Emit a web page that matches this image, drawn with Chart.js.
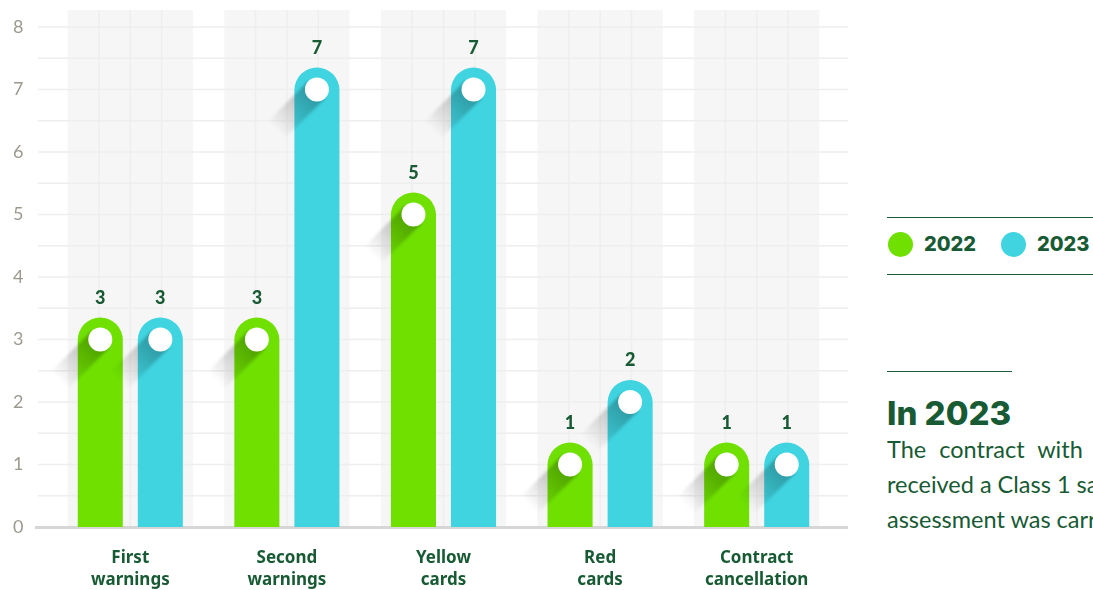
<!DOCTYPE html>
<html lang="en">
<head>
    <meta charset="UTF-8">
    <title>Warnings and cards 2022 - 2023</title>
    <script src="https://cdn.jsdelivr.net/npm/chart.js"></script>
    <style>
        body {
            margin: 0;
            width: 1093px;
            height: 590px;
            overflow: hidden;
            background: #ffffff;
            position: relative;
            font-family: 'Lato', sans-serif;
        }

        .chart-box {
            position: absolute;
            left: 0;
            top: 0;
            width: 860px;
            height: 590px;
        }

        .side {
            position: absolute;
            left: 887px;
            top: 0;
            width: 206px;
            height: 590px;
            overflow: hidden;
            color: #175a33;
        }

        .legend {
            position: absolute;
            top: 217px;
            left: 0;
            width: 240px;
            height: 56px;
            border-top: 1.5px solid #1d5c38;
            border-bottom: 1.5px solid #1d5c38;
        }

        .legend .dot {
            position: absolute;
            top: 14px;
            width: 25px;
            height: 25px;
            border-radius: 50%;
        }

        .legend .label {
            position: absolute;
            top: 14px;
            line-height: 25px;
            font-family: 'Inter', sans-serif;
            font-weight: 800;
            font-size: 20px;
        }

        .rule {
            position: absolute;
            top: 371px;
            left: 0;
            width: 125px;
            border-top: 1.5px solid #1d5c38;
        }

        .side h2 {
            position: absolute;
            top: 397px;
            left: 0;
            margin: 0;
            font-family: 'Inter', sans-serif;
            font-weight: 800;
            font-size: 33px;
            line-height: 33px;
            white-space: nowrap;
        }

        .side p {
            position: absolute;
            top: 432px;
            left: 0;
            margin: 0;
            font-size: 23.5px;
            line-height: 35px;
            white-space: nowrap;
        }
    </style>
</head>
<body>
    <div class="chart-box">
        <canvas id="cardsChart" width="860" height="590"></canvas>
    </div>

    <div class="side">
        <div class="legend">
            <span class="dot" style="left:1px; background:#6fe000;"></span>
            <span class="label" style="left:37px;">2022</span>
            <span class="dot" style="left:114px; background:#40d4e1;"></span>
            <span class="label" style="left:150px;">2023</span>
        </div>
        <div class="rule"></div>
        <h2>In 2023</h2>
        <p><span style="word-spacing:7px;">The contract with</span><br>received a Class 1 sanction<br>assessment was carried out</p>
    </div>

    <script>
        const categories = [['First', 'warnings'], ['Second', 'warnings'], ['Yellow', 'cards'], ['Red', 'cards'], ['Contract', 'cancellation']];
        const values2022 = [3, 3, 5, 1, 1];
        const values2023 = [3, 7, 7, 2, 1];
        const yTicks = [0, 1, 2, 3, 4, 5, 6, 7, 8];

        const green = '#6fe000';
        const cyan = '#40d4e1';
        const darkGreen = '#175a33';

        function line(ctx, x1, y1, x2, y2) {
            ctx.beginPath();
            ctx.moveTo(x1, y1);
            ctx.lineTo(x2, y2);
            ctx.stroke();
        }

        // background bands, grid and the rounded caps / dots / shadows on the bars
        const decor = {
            id: 'decor',
            beforeDatasetsDraw(chart) {
                const { ctx, chartArea, scales: { x, y } } = chart;
                const step = x.getPixelForValue(1) - x.getPixelForValue(0);
                const half = step * 0.4;
                const top = 10;
                const base = y.getPixelForValue(0);
                ctx.save();
                ctx.fillStyle = '#f6f6f6';
                categories.forEach((c, i) => {
                    const cx = x.getPixelForValue(i);
                    ctx.fillRect(cx - half, top, half * 2, base - top);
                });
                ctx.strokeStyle = '#eeeeee';
                ctx.lineWidth = 1.5;
                categories.forEach((c, i) => {
                    const cx = x.getPixelForValue(i);
                    [-0.5, 0, 0.5].forEach(f => line(ctx, cx + f * half, top, cx + f * half, base));
                });
                for (let v = 0.5; v <= yTicks[yTicks.length - 1]; v += 0.5) {
                    const py = y.getPixelForValue(v);
                    line(ctx, chartArea.left - 14, py, chartArea.right + 13, py);
                }
                ctx.strokeStyle = '#d6d6d6';
                ctx.lineWidth = 3;
                line(ctx, chartArea.left - 17, base + 0.5, chartArea.right + 13, base + 0.5);
                ctx.restore();
            },
            afterDatasetsDraw(chart) {
                const { ctx } = chart;
                ctx.save();
                chart.data.datasets.forEach((ds, di) => {
                    const meta = chart.getDatasetMeta(di);
                    meta.data.forEach((el, i) => {
                        const r = el.width / 2;
                        const cx = el.x, cy = el.y;
                        // rounded top
                        ctx.fillStyle = ds.backgroundColor;
                        ctx.beginPath();
                        ctx.arc(cx, cy + 0.5, r, Math.PI, 0);
                        ctx.fill();
                        // long shadow of the dot
                        const dr = 12, L = 58, k = Math.SQRT1_2;
                        const g = ctx.createLinearGradient(cx, cy, cx - L * k, cy + L * k);
                        g.addColorStop(0, 'rgba(0,0,0,0.30)');
                        g.addColorStop(1, 'rgba(0,0,0,0)');
                        ctx.save();
                        ctx.filter = 'blur(1.5px)';
                        ctx.fillStyle = g;
                        ctx.beginPath();
                        ctx.moveTo(cx + dr * k, cy + dr * k);
                        ctx.lineTo(cx + dr * k - L * k, cy + dr * k + L * k);
                        ctx.lineTo(cx - dr * k - L * k, cy - dr * k + L * k);
                        ctx.lineTo(cx - dr * k, cy - dr * k);
                        ctx.closePath();
                        ctx.fill();
                        ctx.restore();
                        // white dot
                        ctx.fillStyle = '#ffffff';
                        ctx.beginPath();
                        ctx.arc(cx, cy, dr, 0, Math.PI * 2);
                        ctx.fill();
                        // value label
                        ctx.fillStyle = darkGreen;
                        ctx.font = '900 18px Lato';
                        ctx.textAlign = 'center';
                        ctx.textBaseline = 'middle';
                        ctx.fillText(ds.data[i], cx, cy - r - 19);
                    });
                });
                ctx.restore();
            }
        };

        const ctx = document.getElementById('cardsChart').getContext('2d');
        const chart = new Chart(ctx, {
            type: 'bar',
            data: {
                labels: categories,
                datasets: [{
                    label: '2022',
                    data: values2022,
                    backgroundColor: green,
                    borderWidth: 0,
                    categoryPercentage: 0.767,
                    barPercentage: 0.75
                }, {
                    label: '2023',
                    data: values2023,
                    backgroundColor: cyan,
                    borderWidth: 0,
                    categoryPercentage: 0.767,
                    barPercentage: 0.75
                }]
            },
            options: {
                responsive: false,
                animation: false,
                layout: {
                    padding: { left: 13, right: 25, top: 27, bottom: 0 }
                },
                scales: {
                    x: {
                        grid: { display: false, drawTicks: false },
                        border: { display: false },
                        ticks: {
                            color: darkGreen,
                            padding: 20,
                            font: { family: 'Noto Sans', weight: 'bold', size: 17, lineHeight: 1.3 }
                        },
                        afterFit(scale) { scale.height = 63; }
                    },
                    y: {
                        min: yTicks[0],
                        max: yTicks[yTicks.length - 1],
                        grid: { display: false, drawTicks: false },
                        border: { display: false },
                        afterBuildTicks(scale) { scale.ticks = yTicks.map(v => ({ value: v })); },
                        ticks: {
                            color: '#9c9a8f',
                            crossAlign: 'far',
                            font: { family: 'Lato', size: 18 }
                        },
                        afterFit(scale) { scale.width = 39; }
                    }
                },
                plugins: {
                    legend: { display: false },
                    tooltip: { enabled: false }
                }
            },
            plugins: [decor]
        });
    </script>
</body>
</html>
